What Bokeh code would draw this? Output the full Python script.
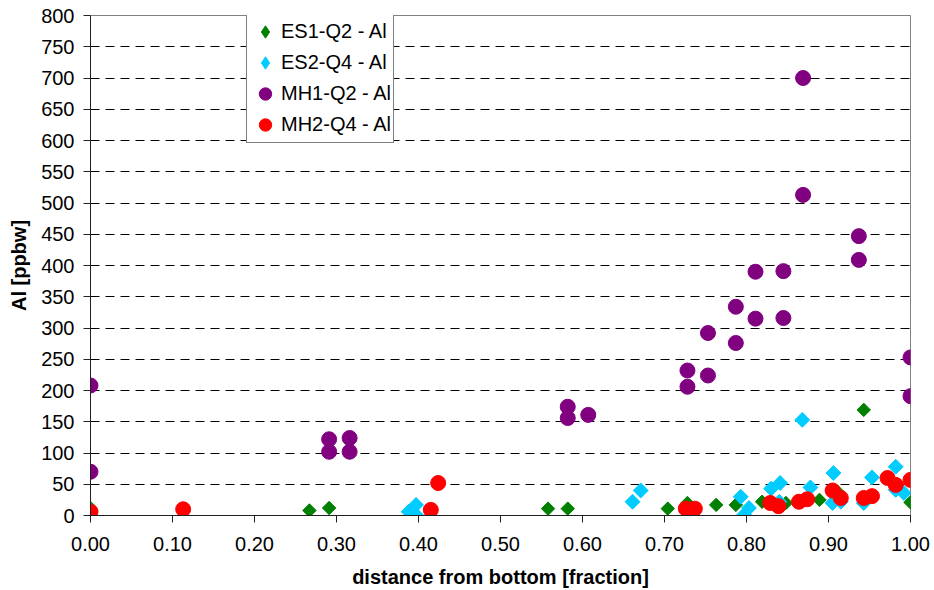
import math
from bokeh.plotting import figure
from bokeh.models import (Range1d, FixedTicker, NumeralTickFormatter, Legend, LegendItem)
from bokeh.embed import file_html
from bokeh.resources import INLINE

# ---- data ----
es1_x = [0.0, 0.267, 0.291, 0.558, 0.582, 0.704, 0.728, 0.763, 0.787, 0.819, 0.848, 0.889, 0.911, 0.943, 1.0]
es1_y = [12, 8, 12, 11, 11, 11, 20, 17, 17, 22, 20, 25, 38, 169, 21]

es2_x = [0.0, 0.388, 0.397, 0.397, 0.661, 0.671, 0.793, 0.797, 0.803, 0.830, 0.841, 0.840, 0.868, 0.878,
         0.906, 0.905, 0.915, 0.943, 0.953, 0.982, 0.982, 0.992]
es2_y = [8, 6, 17, 1, 22, 40, 30, 1, 12, 43, 52, 22, 153, 45, 68, 20, 22, 20, 61, 78, 41, 36]

mh1_x = [0.0, 0.0, 0.291, 0.291, 0.316, 0.316, 0.582, 0.582, 0.607, 0.728, 0.728, 0.753, 0.753,
         0.787, 0.787, 0.811, 0.811, 0.845, 0.845, 0.869, 0.869, 0.937, 0.937, 1.0, 1.0]
mh1_y = [208, 70, 122, 102, 124, 102, 174, 156, 161, 232, 206, 224, 292,
         334, 276, 390, 315, 391, 316, 700, 513, 447, 409, 253, 191]

mh2_x = [0.0, 0.113, 0.415, 0.424, 0.726, 0.737, 0.829, 0.839, 0.864, 0.874, 0.905, 0.915,
         0.943, 0.953, 0.972, 0.982, 1.0]
mh2_y = [6, 10, 9, 52, 11, 11, 20, 15, 22, 26, 40, 28, 28, 31, 60, 49, 57]

series_names = ["ES1-Q2 - Al", "ES2-Q4 - Al", "MH1-Q2 - Al", "MH2-Q4 - Al"]
x_ticks = [0.0, 0.1, 0.2, 0.3, 0.4, 0.5, 0.6, 0.7, 0.8, 0.9, 1.0]
y_ticks = list(range(0, 801, 50))

FONT = "Liberation Sans"
GREEN, CYAN, PURPLE, RED = "#008000", "#00CCFF", "#800080", "#FF0000"

p = figure(width=934, height=590, output_backend="svg", toolbar_location=None,
           x_range=Range1d(0, 1), y_range=Range1d(0, 800),
           min_border_left=90, min_border_right=24, min_border_top=15, min_border_bottom=75)

p.background_fill_color = "white"
p.border_fill_color = "white"
p.outline_line_color = "#808080"
p.outline_line_width = 1

p.xgrid.grid_line_color = None
p.ygrid.grid_line_color = "#000000"
p.ygrid.grid_line_dash = "9 6"
p.ygrid.grid_line_width = 1

p.xaxis.ticker = FixedTicker(ticks=x_ticks)
p.yaxis.ticker = FixedTicker(ticks=y_ticks)
p.xaxis.formatter = NumeralTickFormatter(format="0.00")

for ax in (p.xaxis[0], p.yaxis[0]):
    ax.axis_line_color = "#202020"
    ax.major_tick_line_color = "#202020"
    ax.major_tick_out = 7
    ax.major_tick_in = 0
    ax.minor_tick_line_color = None
    ax.major_label_text_font = FONT
    ax.major_label_text_font_size = "20px"
    ax.major_label_text_color = "black"
    ax.axis_label_text_font = FONT
    ax.axis_label_text_font_size = "20px"
    ax.axis_label_text_font_style = "bold"
    ax.axis_label_text_color = "black"

p.xaxis.axis_label = "distance from bottom [fraction]"
p.yaxis.axis_label = "Al [ppbw]"
p.xaxis.major_label_standoff = 14
p.yaxis.major_label_standoff = 9
p.xaxis.axis_label_standoff = 12
p.yaxis.axis_label_standoff = 8

ang = math.pi / 4
# diamond glyphs underneath (used for the legend shape), covered by rotated squares
d1 = p.scatter(es1_x, es1_y, marker="diamond", size=12, fill_color=GREEN, line_color=GREEN)
r1 = p.scatter(es1_x, es1_y, marker="square", size=9.5, angle=ang,
               fill_color=GREEN, line_color=GREEN)
d2 = p.scatter(es2_x, es2_y, marker="diamond", size=13, fill_color=CYAN, line_color=CYAN)
r2 = p.scatter(es2_x, es2_y, marker="square", size=10.5, angle=ang,
               fill_color=CYAN, line_color=CYAN)
r3 = p.scatter(mh1_x, mh1_y, marker="circle", size=15,
               fill_color=PURPLE, line_color=PURPLE)
r4 = p.scatter(mh2_x, mh2_y, marker="circle", size=15,
               fill_color=RED, line_color=RED)

legend = Legend(items=[LegendItem(label=series_names[0], renderers=[d1]),
                       LegendItem(label=series_names[1], renderers=[d2]),
                       LegendItem(label=series_names[2], renderers=[r3]),
                       LegendItem(label=series_names[3], renderers=[r4])],
                location=(156, 372))
legend.label_text_font = FONT
legend.label_text_font_size = "20px"
legend.label_text_color = "black"
legend.border_line_color = "black"
legend.border_line_width = 1
legend.background_fill_color = "white"
legend.background_fill_alpha = 1
legend.padding = 2
legend.spacing = 0
legend.margin = 0
legend.label_height = 31
legend.glyph_height = 31
legend.glyph_width = 32
legend.label_standoff = 0
p.add_layout(legend, "center")

open("out.html", "w").write(file_html(p, INLINE))
